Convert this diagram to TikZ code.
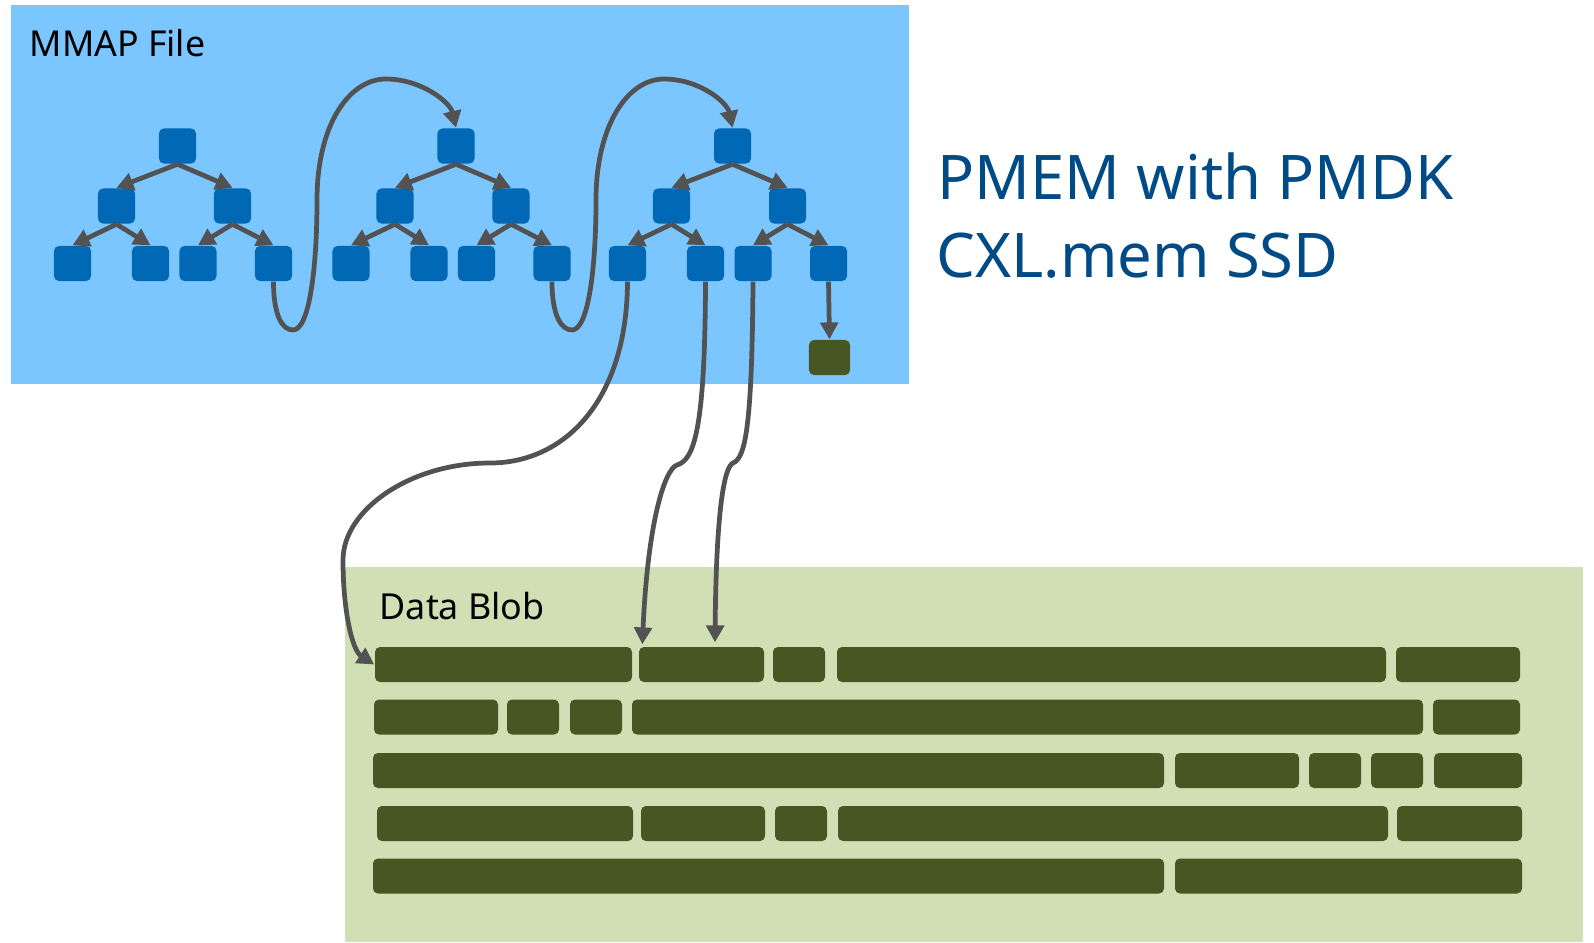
\documentclass[tikz,border=0pt]{standalone}
\usepackage{fontspec}
\setmainfont{Noto Sans}
\usetikzlibrary{arrows.meta}

\definecolor{mmapblue}{RGB}{124,198,255}
\definecolor{nodeblue}{RGB}{0,104,181}
\definecolor{blobgreen}{RGB}{209,224,180}
\definecolor{bargreen}{RGB}{70,87,36}
\definecolor{linkgray}{RGB}{82,82,82}
\definecolor{titleblue}{RGB}{0,74,134}

\tikzset{
  treebox/.style={fill=nodeblue, rounded corners=1.4pt, minimum width=0.37cm,
    minimum height=0.35cm, inner sep=0pt},
  bar/.style={fill=bargreen, rounded corners=1.4pt, minimum height=0.35cm, inner sep=0pt},
  link/.style={draw=linkgray, line width=1.35pt, -{Triangle[length=4.8pt,width=5pt]}},
  label/.style={anchor=base west, inner sep=0pt},
}

\begin{document}
\begin{tikzpicture}[x=0.01cm,y=-0.01cm]
\useasboundingbox (0,0) rectangle (1594,942);

% panels
\fill[mmapblue] (11,5) rectangle (909,384);
\fill[blobgreen] (345,567) rectangle (1583,942);
\node[label, font=\fontsize{10.15}{12}\selectfont] (mmap) at (29,56) {MMAP File};
\node[label, font=\fontsize{10.2}{12}\selectfont] (blob) at (379,619) {Data Blob};

% title
\node[label, text=titleblue, font=\fontsize{17.5}{22}\selectfont] (title1) at (937,199) {PMEM with PMDK};
\node[label, text=titleblue, font=\fontsize{17.5}{22}\selectfont] (title2) at (936,277) {CXL.mem SSD};

% three b-trees
\foreach \i/\x in {1/177.5, 2/456, 3/732.5} {
  \node[treebox] (r\i) at (\x,146) {};
  \node[treebox] (a\i) at (\x-61,206) {};
  \node[treebox] (b\i) at (\x+55,206) {};
  \node[treebox] (aa\i) at (\x-105,263.5) {};
  \node[treebox] (ab\i) at (\x-27,263.5) {};
  \node[treebox] (ba\i) at (\x+20.5,263.5) {};
  \node[treebox] (bb\i) at (\x+96,263.5) {};
  \draw[link] (r\i.south) -- (a\i.north);
  \draw[link] (r\i.south) -- (b\i.north);
  \draw[link] (a\i.south) -- (aa\i.north);
  \draw[link] (a\i.south) -- (ab\i.north);
  \draw[link] (b\i.south) -- (ba\i.north);
  \draw[link] (b\i.south) -- (bb\i.north);
}
\node[treebox, fill=bargreen, minimum width=0.41cm] (leaf) at (829.5,357.5) {};
\draw[link] (bb3.south) -- (leaf.north);

% jumps from one tree to the next
\draw[link] (bb1.south) .. controls (273.5,315) and (282,330) .. (293,330)
   .. controls (309,330) and (317,270) .. (317,200)
   .. controls (317,125) and (349,79) .. (386,79)
   .. controls (421,79) and (450,102) .. (r2.north);
\draw[link] (bb2.south) .. controls (552,315) and (561,330) .. (572,330)
   .. controls (588,330) and (596,270) .. (596,200)
   .. controls (596,125) and (628,79) .. (664,79)
   .. controls (699,79) and (727,102) .. (r3.north);

% data blob
\foreach \n/\xa/\xb/\y in {
  b1a/375/632/664.5, b1b/639/764/664.5, b1c/773/825/664.5, b1d/837/1386/664.5, b1e/1396/1520/664.5,
  b2a/374/498/717, b2b/507/559/717, b2c/570/622/717, b2d/632/1423/717, b2e/1433/1520/717,
  b3a/373/1164/770.5, b3b/1175/1299/770.5, b3c/1309/1361/770.5, b3d/1371/1423/770.5, b3e/1434/1522/770.5,
  b4a/377/633/823.5, b4b/641/765/823.5, b4c/775/827/823.5, b4d/838/1388/823.5, b4e/1397/1522/823.5,
  b5a/373/1164/876, b5b/1175/1522/876}
  \node[bar, minimum width={(\xb-\xa)*0.01cm}] (\n) at ({(\xa+\xb)/2},\y) {};

% leaves pointing into the blob
\draw[link] (aa3.south) .. controls (627,400) and (565,463) .. (490,463)
   .. controls (410,463) and (343,510) .. (343,560)
   .. controls (343,610) and (352,650) .. (b1a.west);
\draw[link] (ab3.south) .. controls (705,430) and (694,460) .. (677,465)
   .. controls (665,469) and (648,520) .. ([xshift=0.04cm,yshift=0.02cm]b1b.north west);
\draw[link] (ba3.south) .. controls (752,430) and (745,458) .. (733,463)
   .. controls (722,468) and (716,530) .. ([xshift=0.135cm,yshift=0.04cm]b1b.north);

\end{tikzpicture}
\end{document}
